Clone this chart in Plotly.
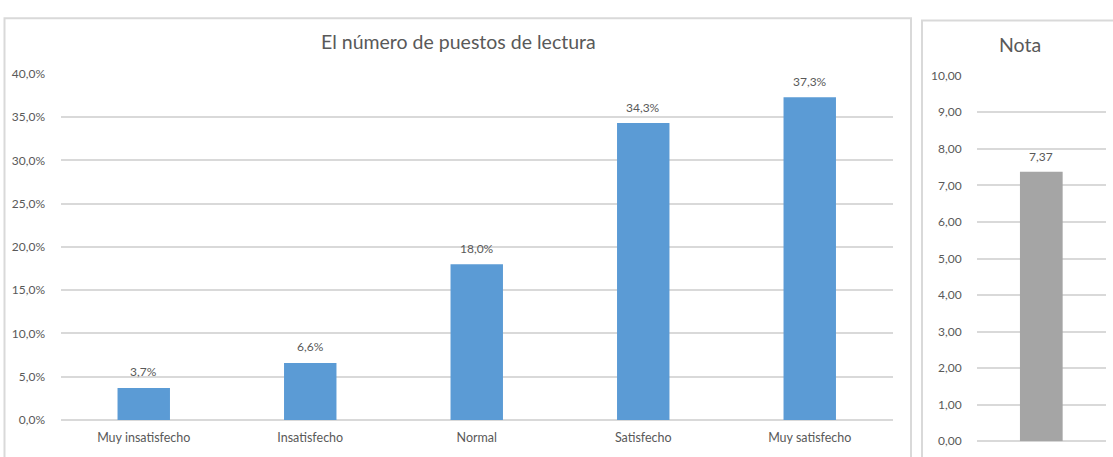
import plotly.graph_objects as go

W, H = 1113, 457

categories = ["Muy insatisfecho", "Insatisfecho", "Normal", "Satisfecho", "Muy satisfecho"]
percentages = [0.037, 0.066, 0.180, 0.343, 0.373]
nota_category = ["Nota"]
nota_values = [7.37]

main_title = "El número de puestos de lectura"
nota_title = "Nota"

FONT = "Lato, 'Open Sans', sans-serif"
TXT = "#595959"
GRID = "#d9d9d9"


def px(x):
    return x / W


def py(y):
    return 1 - y / H


fig = go.Figure()

fig.add_trace(go.Bar(
    x=categories, y=percentages,
    marker=dict(color="#5b9bd5", line=dict(width=0)),
    width=0.315,
    xaxis="x", yaxis="y", showlegend=False, hoverinfo="x+y",
))

fig.add_trace(go.Bar(
    x=nota_category, y=nota_values,
    marker=dict(color="#a5a5a5", line=dict(width=0)),
    width=0.332,
    xaxis="x2", yaxis="y2", showlegend=False, hoverinfo="y",
))

annotations = []
for c, v in zip(categories, percentages):
    annotations.append(dict(
        x=c, y=v, xref="x", yref="y", text=f"{v*100:.1f}%".replace(".", ","),
        showarrow=False, yanchor="middle", yshift=16,
        font=dict(size=12, color=TXT, family=FONT)))
for c, v in zip(nota_category, nota_values):
    annotations.append(dict(
        x=c, y=v, xref="x2", yref="y2", text=f"{v:.2f}".replace(".", ","),
        showarrow=False, yanchor="middle", yshift=15,
        font=dict(size=12, color=TXT, family=FONT)))

annotations += [
    dict(text=main_title, xref="paper", yref="paper", x=px(458), y=py(35),
         xanchor="center", yanchor="middle", showarrow=False,
         font=dict(size=19.5, color=TXT, family=FONT)),
    dict(text=nota_title, xref="paper", yref="paper", x=px(1020), y=py(38),
         xanchor="center", yanchor="middle", showarrow=False,
         font=dict(size=19.5, color=TXT, family=FONT)),
]

axis_common = dict(
    showgrid=True, gridcolor=GRID, gridwidth=1.5,
    zeroline=True, zerolinecolor=GRID, zerolinewidth=1.5,
    showline=False, ticks="outside", ticklen=12, tickcolor="rgba(0,0,0,0)",
    tickfont=dict(size=12, color=TXT, family=FONT), fixedrange=True,
)

fig.update_layout(
    width=W, height=H,
    margin=dict(l=0, r=0, t=0, b=0),
    paper_bgcolor="white", plot_bgcolor="white",
    separators=", ",
    font=dict(family=FONT, color=TXT),
    xaxis=dict(domain=[px(60.5), px(893)], showgrid=False, zeroline=False, showline=False,
               ticks="outside", ticklen=6, tickcolor="rgba(0,0,0,0)",
               tickfont=dict(size=12.5, color=TXT, family=FONT), anchor="y", fixedrange=True),
    yaxis=dict(domain=[py(426), py(68)], range=[0, 0.40], dtick=0.05, tickformat=".1%",
               anchor="x", **axis_common),
    xaxis2=dict(domain=[px(977), px(1105.6)], showgrid=False, zeroline=False, showline=False,
                showticklabels=False, anchor="y2", fixedrange=True),
    yaxis2=dict(domain=[py(448), py(70)], range=[0, 10], dtick=1, tickformat=".2f",
                anchor="x2", **axis_common),
    shapes=[
        dict(type="rect", xref="paper", yref="paper",
             x0=px(4.5), x1=px(911), y0=py(470), y1=py(10.5),
             line=dict(color=GRID, width=2), fillcolor="rgba(0,0,0,0)", layer="below"),
        dict(type="rect", xref="paper", yref="paper",
             x0=px(922), x1=px(1130), y0=py(470), y1=py(13),
             line=dict(color=GRID, width=2), fillcolor="rgba(0,0,0,0)", layer="below"),
    ],
    annotations=annotations,
)

fig.write_html(
    "out.html",
    config={"displayModeBar": False},
    post_script="document.body.style.margin='0';document.body.style.overflow='hidden';",
)
